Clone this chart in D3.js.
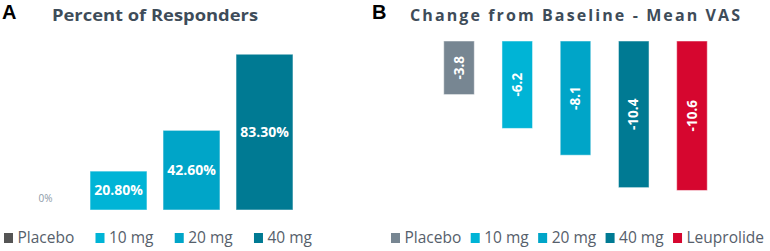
<!DOCTYPE html>
<html>
<head>
<meta charset="utf-8">
<script src="https://cdn.jsdelivr.net/npm/d3@7"></script>
<style>
  body { margin: 0; background: #fff; }
  svg { display: block; font-family: "Open Sans", sans-serif; }
</style>
</head>
<body>
<svg id="chart" width="770" height="251"></svg>
<script>
// panel A - percent of responders
let respCategories = ["Placebo", "10 mg", "20 mg", "40 mg"]
let respValues = [0, 20.8, 42.6, 83.3]
let respLabels = ["0%", "20.80%", "42.60%", "83.30%"]
let respColors = ["#555555", "#00b4d6", "#00a5c8", "#007a93"]

// panel B - change from baseline, mean VAS
let vasCategories = ["Placebo", "10 mg", "20 mg", "40 mg", "Leuprolide"]
let vasValues = [-3.8, -6.2, -8.1, -10.4, -10.6]
let vasColors = ["#778692", "#00b4d6", "#00a5c8", "#007a93", "#d6062f"]

let titleColor = "#3e4c59"
let legendTextColor = "#56606b"

let svg = d3.select("#chart")

// panel letters
svg.append("text")
  .attr("x", 2).attr("y", 19)
  .text("A")
  .style("font-family", "Liberation Sans, Arial, sans-serif")
  .style("font-weight", "bold")
  .style("font-size", "20px")
  .style("fill", "#000")

svg.append("text")
  .attr("x", 372).attr("y", 19)
  .text("B")
  .style("font-family", "Liberation Sans, Arial, sans-serif")
  .style("font-weight", "bold")
  .style("font-size", "20px")
  .style("fill", "#000")

// titles
svg.append("text")
  .attr("x", 52).attr("y", 21)
  .attr("textLength", 206)
  .attr("lengthAdjust", "spacingAndGlyphs")
  .text("Percent of Responders")
  .style("font-weight", "bold")
  .style("font-size", "16.5px")
  .style("fill", titleColor)

svg.append("text")
  .attr("x", 410).attr("y", 21)
  .attr("textLength", 330)
  .attr("lengthAdjust", "spacing")
  .text("Change from Baseline - Mean VAS")
  .style("font-weight", "bold")
  .style("font-size", "16px")
  .style("fill", titleColor)

// ---------- panel A ----------
let xA = d3.scaleBand()
  .domain(respCategories)
  .range([9, 301])
  .paddingInner(0.22)
  .paddingOuter(0.11)

let yA = d3.scaleLinear()
  .domain([0, 100])
  .range([210, 23])

let gA = svg.append("g")

gA.selectAll(".barA")
  .data(respValues)
  .enter()
  .append("rect")
  .attr("class", "barA")
  .attr("x", (d, i) => xA(respCategories[i]))
  .attr("width", xA.bandwidth())
  .attr("y", d => yA(d))
  .attr("height", d => yA(0) - yA(d))
  .style("fill", (d, i) => respColors[i])
  .style("stroke", "#ffffff")
  .style("stroke-opacity", 0.5)
  .style("stroke-width", 1)

gA.selectAll(".labelA")
  .data(respValues)
  .enter()
  .append("text")
  .attr("class", "labelA")
  .attr("x", (d, i) => xA(respCategories[i]) + xA.bandwidth() / 2)
  .attr("y", d => d > 0 ? (yA(d) + yA(0)) / 2 : yA(0) - 12)
  .attr("dy", "0.35em")
  .attr("text-anchor", "middle")
  .text((d, i) => respLabels[i])
  .style("font-weight", d => d > 0 ? "bold" : "normal")
  .style("font-size", d => d > 0 ? "14px" : "10px")
  .style("fill", d => d > 0 ? "#ffffff" : "#8c99a6")

// ---------- panel B ----------
let xB = d3.scaleBand()
  .domain(vasCategories)
  .range([429.9, 721.1])
  .paddingInner(0.475)
  .paddingOuter(0.2375)

let yB = d3.scaleLinear()
  .domain([0, -12])
  .range([41, 41 + 12 * 14.1])

let gB = svg.append("g")

gB.selectAll(".barB")
  .data(vasValues)
  .enter()
  .append("rect")
  .attr("class", "barB")
  .attr("x", (d, i) => xB(vasCategories[i]))
  .attr("width", xB.bandwidth())
  .attr("y", yB(0))
  .attr("height", d => yB(d) - yB(0))
  .style("fill", (d, i) => vasColors[i])
  .style("stroke", "#ffffff")
  .style("stroke-opacity", 0.5)
  .style("stroke-width", 1)

gB.selectAll(".labelB")
  .data(vasValues)
  .enter()
  .append("text")
  .attr("class", "labelB")
  .attr("transform", (d, i) => "translate(" + (xB(vasCategories[i]) + xB.bandwidth() / 2) + ", " + ((yB(0) + yB(d)) / 2) + ") rotate(-90)")
  .attr("dy", "0.35em")
  .attr("text-anchor", "middle")
  .text(d => d.toFixed(1))
  .style("font-weight", "bold")
  .style("font-size", "13.5px")
  .style("fill", "#ffffff")

// ---------- legends ----------
// items spread so the legend runs from startX to endX
function drawLegend(startX, endX, categories, colors) {
  let g = svg.append("g")
  let offset = 13.5
  let texts = categories.map(function(c) {
    return g.append("text")
      .attr("y", 243)
      .text(c)
      .style("font-size", "15.5px")
      .style("fill", legendTextColor)
  })
  let widths = texts.map(t => t.node().getComputedTextLength())
  let gap = (endX - startX - d3.sum(widths) - offset * categories.length) / (categories.length - 1)
  let x = startX
  categories.forEach(function(c, i) {
    g.append("rect")
      .attr("x", x)
      .attr("y", 233)
      .attr("width", 9)
      .attr("height", 10)
      .style("fill", colors[i])
    texts[i].attr("x", x + offset)
    x = x + offset + widths[i] + gap
  })
}

drawLegend(4, 312, respCategories, respColors)
drawLegend(391, 764, vasCategories, vasColors)
</script>
</body>
</html>
